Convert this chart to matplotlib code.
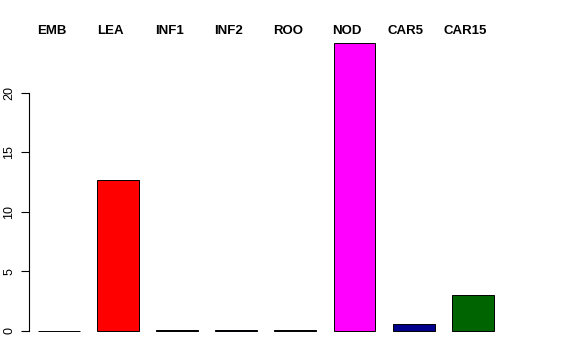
import matplotlib
matplotlib.use('Agg')
import matplotlib.pyplot as plt
import numpy as np

plt.rcParams['font.family'] = ['Liberation Sans', 'DejaVu Sans']

# tissue expression values
tissues = ['EMB', 'LEA', 'INF1', 'INF2', 'ROO', 'NOD', 'CAR5', 'CAR15']
values = [0.03, 12.7, 0.08, 0.05, 0.05, 24.2, 0.6, 3.0]
colors = ['gray', 'red', 'green', 'blue', 'brown', 'magenta', 'darkblue', 'darkgreen']
yticks = [0, 5, 10, 15, 20]

W, H = 576, 360
fig = plt.figure(figsize=(W / 100, H / 100), dpi=100)
# plot region in pixels: left 29, right 547, top 31.5, bottom 342.5
ax = fig.add_axes([29 / W, (H - 342.5) / H, (547 - 29) / W, (342.5 - 31.5) / H])

x = np.arange(len(tissues))
ax.bar(x, values, width=0.71, color=colors, edgecolor='black', linewidth=0.7)

px = 59.1  # pixels per bar slot
ax.set_xlim((29 - 59) / px, (547 - 59) / px)
ymax = max(values)
ax.set_ylim(-0.04 * ymax, 1.04 * ymax)

for s in ['top', 'right', 'bottom']:
    ax.spines[s].set_visible(False)
ax.spines['left'].set_bounds(0, 20)
ax.spines['left'].set_linewidth(0.8)
ax.set_xticks([])
ax.set_yticks(yticks)
ax.set_yticklabels([str(t) for t in yticks], rotation=90, va='center', fontsize=9)
ax.tick_params(axis='y', length=6, width=0.8, pad=4)

for i, t in enumerate(tissues):
    ax.text(i - 0.13, 1.0, t, transform=ax.get_xaxis_transform(),
            ha='center', va='center', fontsize=9.5, fontweight='bold', clip_on=False)

fig.savefig('out.png', dpi=100)
